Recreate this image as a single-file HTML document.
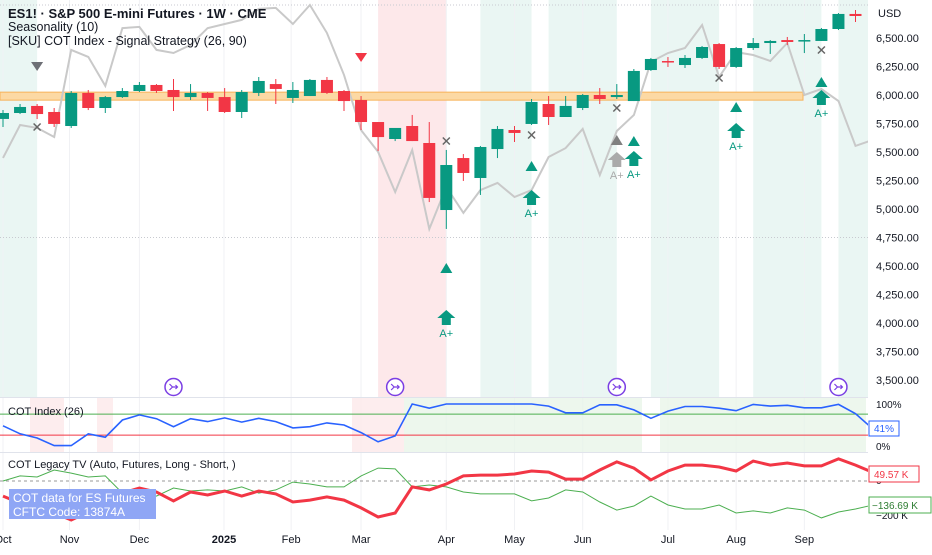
<!DOCTYPE html>
<html><head><meta charset="utf-8"><style>
html,body{margin:0;padding:0;background:#fff;}
body{width:932px;height:550px;overflow:hidden;font-family:"Liberation Sans",sans-serif;}
svg text{font-family:"Liberation Sans",sans-serif;}
</style></head><body>
<svg id="c" width="932" height="550" viewBox="0 0 932 550" xmlns="http://www.w3.org/2000/svg"></svg>
<script>
// ---- data ----
const opens  = [5790,5842,5904,5851,5728,6018,5886,5982,6035,6088,6044,5982,6018,5982,5851,6018,6096,5974,5991,6132,6035,5956,5763,5614,5728,5579,4991,5447,5272,5526,5693,5746,5921,5807,5886,6000,5982,5947,6219,6298,6263,6325,6447,6246,6412,6456,6482,6474,6474,6579,6711];
const closes = [5842,5895,5833,5746,6018,5886,5982,6035,6088,6035,5982,6018,5974,5851,6026,6123,6053,6044,6132,6018,5947,5763,5631,5711,5596,5097,5386,5316,5544,5702,5667,5939,5807,5904,6000,5965,6000,6211,6316,6285,6325,6421,6246,6412,6456,6474,6465,6482,6579,6711,6693];
const highs  = [5868,5921,5921,5886,6035,6044,5991,6061,6114,6096,6140,6096,6026,6061,6044,6158,6140,6114,6140,6158,6044,5991,5763,5667,5825,5763,5518,5482,5553,5728,5728,5965,5991,5991,6009,6061,6096,6228,6325,6333,6351,6430,6456,6421,6500,6482,6509,6535,6588,6719,6746];
const lows   = [5719,5833,5789,5719,5711,5868,5842,5974,6026,6018,5860,5956,5860,5842,5798,5991,5921,5930,5991,6009,5860,5693,5509,5596,5596,5061,4825,5246,5123,5447,5588,5737,5737,5807,5868,5921,5965,5947,6211,6246,6237,6316,6228,6237,6395,6360,6439,6368,6474,6570,6640];
const seasonal = [34.2,47.9,46.7,42.9,79.2,76.3,64.2,88.3,88.8,79.2,77.9,81.3,88.3,90,91.7,96.3,96.7,90,97.9,86.3,68.8,45.8,36.7,20,37.5,4.6,22.1,11.3,20.8,23.8,17.9,20.8,34.6,38.3,46.3,27.1,45.4,52.1,74.2,77.9,80,89.6,67.9,78.3,77.1,74.6,82.1,60.4,62.9,57.9,39.2,41.7];
const cotIndex = [48,29,19,1,1,29,21,62,74,65,46,65,58,67,57,66,58,43,46,55,50,32,10,24,100,90,100,100,100,100,100,100,95,79,79,98,98,86,66,83,94,94,90,84,99,95,97,91,91,99,77,41];
const netLong = [-86,-126,-149,-183,-223,-177,-137,-69,-40,-63,-114,-63,-80,-57,-86,-57,-74,-120,-109,-91,-109,-154,-206,-183,-34,-51,-17,29,34,34,40,57,51,11,11,63,109,74,6,57,91,91,80,57,114,91,103,86,86,126,91,50];
const netComm = [0,29,23,63,45,23,29,-69,-63,-86,-40,-57,-51,-57,-34,-69,-51,-6,-17,-34,-34,29,74,69,-34,-23,-34,-63,-74,-74,-74,-114,-97,-51,-63,-120,-166,-143,-86,-137,-160,-160,-137,-183,-171,-183,-154,-166,-211,-177,-160,-137];
const priceTicks = [6500,6250,6000,5750,5500,5250,5000,4750,4500,4250,4000,3750,3500];
const monthLabels = ["Oct","Nov","Dec","2025","Feb","Mar","Apr","May","Jun","Jul","Aug","Sep"];
const monthIdx = [0,3.9,8,12.96,16.9,21,26,30,34,39,43,47];
const greenBands = [[-1,2],[28,31],[32,36],[38,42],[44,48],[49,51]];
const redBands = [[22,26]];
const buySignals = [26,31,37,43,48];
const buyTriPrice = [4482,5377,5596,5895,6114];
const buyArrowPrice = [4114,5167,5509,5754,6044];

// ---- scales ----
const PW = 868;
const X = i => 3 + 17.05*i;
const Y = p => 95 - (p-6000)*0.114;
const SY = v => 240 - v*2.4;
const CY = v => 446 - v*0.42;
const LY = v => 481 - v*0.175;

const svg = document.getElementById('c');
const NS = 'http://www.w3.org/2000/svg';
function mk(tag, attrs, parent){const e=document.createElementNS(NS,tag);for(const k in attrs)e.setAttribute(k,attrs[k]);(parent||svg).appendChild(e);return e;}

const defs = mk('defs',{});
const cp = mk('clipPath',{id:'pc'},defs); mk('rect',{x:0,y:0,width:PW,height:550},cp);
const g = mk('g',{'clip-path':'url(#pc)'});



greenBands.forEach(b=>{const r=mk('rect',{x:X(b[0]),y:0,width:(b[1]-b[0])*17.05,height:397,fill:'#e6f5f1',opacity:0.85},g);
});
redBands.forEach(b=>{const r=mk('rect',{x:X(b[0]),y:0,width:(b[1]-b[0])*17.05,height:397,fill:'#fde8ea'},g);
});

monthIdx.forEach(m=>{mk('line',{x1:X(m),x2:X(m),y1:0,y2:530,stroke:'#f0f1f4','stroke-width':1},g);});
[Y(4750),5].forEach(y=>mk('line',{x1:0,x2:PW,y1:y,y2:y,stroke:'#c8cad0','stroke-width':1,'stroke-dasharray':'1,2'},g));

const lvl=mk('rect',{x:0,y:Y(6025),width:803,height:8,fill:'#fcd9a4',stroke:'#f7b35a','stroke-width':1},g);


let sp = seasonal.map((v,i)=>X(i).toFixed(1)+','+SY(v).toFixed(1)).join(' ');
const sl=mk('polyline',{points:sp,fill:'none',stroke:'#c9c9c9','stroke-width':2},g);


opens.forEach((o,i)=>{
  const c=closes[i], up=c>=o, col=up?'#089981':'#f23645';
  const cg=mk('g',{},g);
  
  
  mk('line',{x1:X(i),x2:X(i),y1:Y(highs[i]),y2:Y(lows[i]),stroke:col,'stroke-width':1},cg);
  const t=Math.min(Y(o),Y(c)), h=Math.max(1.5,Math.abs(Y(o)-Y(c)));
  mk('rect',{x:X(i)-6,y:t,width:12,height:h,fill:col},cg);
});

function arrow(x,y,col,lab){
  const ag=mk('g',{},g);
  
  
  mk('polygon',{points:`${x},${y} ${x+9},${y+8} ${x+4.5},${y+8} ${x+4.5},${y+15} ${x-4.5},${y+15} ${x-4.5},${y+8} ${x-9},${y+8}`,fill:col},ag);
  const t=mk('text',{x:x,y:y+27,'font-size':11,fill:col,'text-anchor':'middle'},ag);t.textContent=lab;
}
function triUp(x,y,col){const t=mk('polygon',{points:`${x},${y-5} ${x+6},${y+5} ${x-6},${y+5}`,fill:col},g);
 }
function cross(x,y){const cg=mk('g',{stroke:'#666','stroke-width':1.5},g);
 
 mk('line',{x1:x-3.5,y1:y-3.5,x2:x+3.5,y2:y+3.5},cg);mk('line',{x1:x-3.5,y1:y+3.5,x2:x+3.5,y2:y-3.5},cg);}
buySignals.forEach((i,k)=>{
  triUp(X(i),Y(buyTriPrice[k]),'#089981');
  arrow(X(i),Y(buyArrowPrice[k]),'#089981','A+');
});
triUp(X(36),140,'#808080'); arrow(X(36),152,'#aaaaaa','A+');
cross(X(2),127);cross(X(26),141);cross(X(31),135);cross(X(36),108);cross(X(42),78);cross(X(48),50);
const d1=mk('polygon',{points:`${X(2)-6},62 ${X(2)+6},62 ${X(2)},71`,fill:'#6e7076'},g);

const d2=mk('polygon',{points:`${X(21)-6},53 ${X(21)+6},53 ${X(21)},62`,fill:'#f23645'},g);


[10,23,36,49].forEach(i=>{const eg=mk('g',{},g);
 
 mk('circle',{cx:X(i),cy:387,r:8.5,fill:'#fff',stroke:'#7b3fe4','stroke-width':1.5},eg);
 mk('path',{d:`M${X(i)-4},${384} l3,3 l-3,3 M${X(i)-1},${387} h5 m-2,-2 l2,2 l-2,2`,fill:'none',stroke:'#7b3fe4','stroke-width':1.2},eg);
});

mk('line',{x1:0,x2:932,y1:397.5,y2:397.5,stroke:'#e0e3eb'});
mk('line',{x1:0,x2:932,y1:452.5,y2:452.5,stroke:'#e0e3eb'});

[[30,64,'#fde8ea'],[97,113,'#fde8ea'],[352,404,'#fde8ea'],[404,642,'#e8f5e9'],[660,866,'#e8f5e9']].forEach(b=>{
 const r=mk('rect',{x:b[0],y:398,width:b[1]-b[0],height:54,fill:b[2],opacity:0.8},g);
 });
mk('line',{x1:0,x2:PW,y1:CY(76),y2:CY(76),stroke:'#4caf50','stroke-width':1},g);
mk('line',{x1:0,x2:PW,y1:CY(26),y2:CY(26),stroke:'#f23645','stroke-width':1},g);
const bl=mk('polyline',{points:cotIndex.map((v,i)=>X(i).toFixed(1)+','+CY(v).toFixed(1)).join(' '),fill:'none',stroke:'#2962ff','stroke-width':1.6},g);


mk('line',{x1:0,x2:PW,y1:LY(0),y2:LY(0),stroke:'#999','stroke-width':1,'stroke-dasharray':'3,3'},g);
const gl=mk('polyline',{points:netComm.map((v,i)=>X(i).toFixed(1)+','+LY(v).toFixed(1)).join(' '),fill:'none',stroke:'#4caf50','stroke-width':1},g);

const rl=mk('polyline',{points:netLong.map((v,i)=>X(i).toFixed(1)+','+LY(v).toFixed(1)).join(' '),fill:'none',stroke:'#f23645','stroke-width':3},g);


const ib=mk('g',{});
mk('rect',{x:9,y:489,width:147,height:30,fill:'#8fa6f5'},ib);
let t1=mk('text',{x:13,y:502,'font-size':12,fill:'#fff'},ib);t1.textContent='COT data for ES Futures';
let t2=mk('text',{x:13,y:516,'font-size':12,fill:'#fff'},ib);t2.textContent='CFTC Code: 13874A';

function txt(x,y,s,size,col,name,w){const t=mk('text',{x:x,y:y,'font-size':size,fill:col,'font-weight':w||'normal'});t.textContent=s;
 return t;}
txt(8,18,'ES1! · S&P 500 E-mini Futures · 1W · CME',13,'#131722','chart-title','bold');
txt(8,31,'Seasonality (10)',12.5,'#131722','seasonality-legend');
txt(8,45,'[SKU] COT Index - Signal Strategy (26, 90)',12.5,'#131722','strategy-legend');
txt(8,415,'COT Index (26)',11,'#131722','cot-index-legend');
txt(8,468,'COT Legacy TV (Auto, Futures, Long - Short, )',11,'#131722','cot-legacy-legend');

mk('rect',{x:868,y:0,width:64,height:550,fill:'#fff'});
txt(878,17,'USD',11,'#131722','currency-label');
priceTicks.forEach(p=>{txt(876,Y(p)+4,p.toLocaleString('en-US',{minimumFractionDigits:2}),11,'#131722','price-tick');});
txt(876,408,'100%',10,'#131722','cot-tick');
txt(876,450,'0%',10,'#131722','cot-tick');
mk('rect',{x:869,y:421,width:30,height:15,fill:'#fff',stroke:'#2962ff'});
txt(874,432,cotIndex[cotIndex.length-1]+'%',10,'#2962ff','cot-last-value');
txt(876,484,'0',10,'#131722','legacy-tick');
txt(876,519,'−200 K',10,'#131722','legacy-tick');
mk('rect',{x:869,y:466,width:50,height:16,fill:'#fff',stroke:'#f23645'});
txt(874,478,'49.57 K',10,'#f23645','legacy-last-red');
mk('rect',{x:869,y:497,width:62,height:16,fill:'#fff',stroke:'#4caf50'});
txt(872,509,'−136.69 K',10,'#2e7d32','legacy-last-green');

monthLabels.forEach((m,i)=>{const t=txt(X(monthIdx[i]),543,m,11,'#131722','time-tick',m==='2025'?'bold':'normal');t.setAttribute('text-anchor','middle');});
</script>
</body></html>
